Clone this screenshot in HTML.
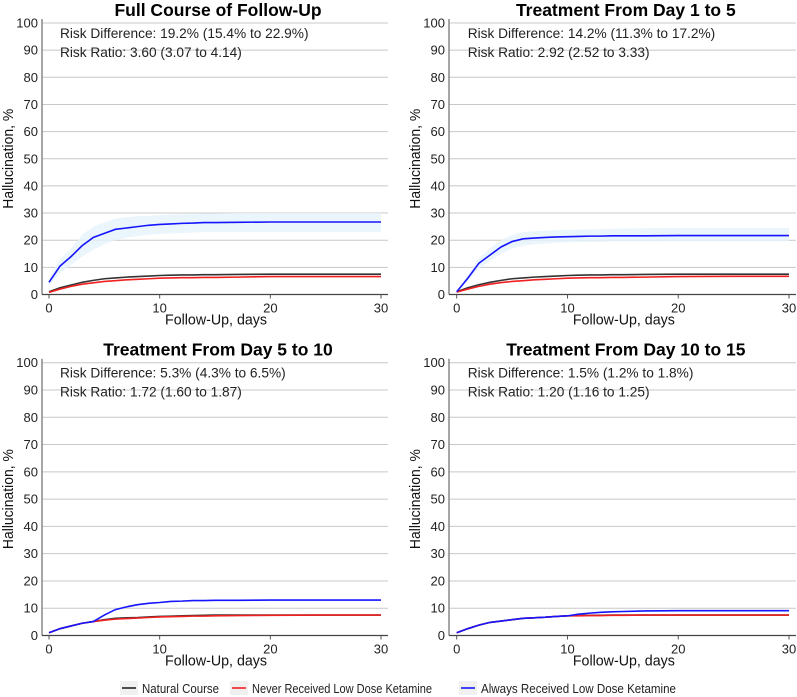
<!DOCTYPE html>
<html><head><meta charset="utf-8"><style>
body{margin:0;background:#fff;}
svg{display:block;font-family:"Liberation Sans",Arial,sans-serif;}
</style></head><body>
<svg id="chart" width="797" height="697" viewBox="0 0 797 697"></svg>
<script>
const days = [0,1,2,3,4,5,6,7,8,9,10,11,12,13,14,15,17,20,25,30];
const panelTitles = ["Full Course of Follow-Up","Treatment From Day 1 to 5","Treatment From Day 5 to 10","Treatment From Day 10 to 15"];
const riskDiff = ["Risk Difference: 19.2% (15.4% to 22.9%)","Risk Difference: 14.2% (11.3% to 17.2%)","Risk Difference: 5.3% (4.3% to 6.5%)","Risk Difference: 1.5% (1.2% to 1.8%)"];
const riskRatio = ["Risk Ratio: 3.60 (3.07 to 4.14)","Risk Ratio: 2.92 (2.52 to 3.33)","Risk Ratio: 1.72 (1.60 to 1.87)","Risk Ratio: 1.20 (1.16 to 1.25)"];
const yTicks = [0,10,20,30,40,50,60,70,80,90,100];
const xTicks = [0,10,20,30];
// panel 1
const natural1 = [1,2.5,3.5,4.5,5.2,5.8,6.1,6.4,6.6,6.8,7,7.1,7.2,7.2,7.3,7.3,7.4,7.5,7.5,7.5];
const never1   = [0.8,2,3,3.8,4.3,4.8,5.1,5.4,5.6,5.8,6,6.1,6.2,6.2,6.3,6.3,6.4,6.6,6.6,6.6];
const always1  = [4.5,10.5,14,18,21,22.5,24,24.5,25,25.5,25.8,26,26.2,26.3,26.5,26.5,26.6,26.7,26.7,26.7];
const alwaysLo1 = [3,8,11,14,16.5,18.5,20,21,21.5,22,22.3,22.5,22.7,22.8,23,23,23,23,23,23];
const alwaysHi1 = [6,13,17,22,25,26.5,28,28.5,28.8,29,29.2,29.4,29.6,29.7,29.8,29.9,30,30,30,30];
// panel 2
const natural2 = [1,2.5,3.6,4.5,5.2,5.8,6.1,6.4,6.6,6.8,7,7.1,7.2,7.2,7.3,7.3,7.4,7.5,7.5,7.5];
const never2   = [0.9,2,3,3.8,4.4,4.8,5.1,5.4,5.6,5.8,6,6.1,6.2,6.2,6.3,6.3,6.4,6.6,6.7,6.7];
const always2  = [1,6,11.5,14.5,17.5,19.5,20.5,20.8,21,21.2,21.3,21.4,21.5,21.5,21.6,21.6,21.6,21.7,21.7,21.7];
const alwaysLo2 = [0.8,5,9.5,12.5,15,17,18,18.5,18.8,19,19.2,19.3,19.4,19.4,19.5,19.5,19.5,19.6,19.6,19.6];
const alwaysHi2 = [1.2,7,13.5,17,20,22,23,23.3,23.5,23.7,23.8,23.9,24,24.1,24.2,24.3,24.4,24.5,24.5,24.5];
// panel 3
const natural3 = [1,2.5,3.5,4.5,5.1,5.8,6.3,6.5,6.6,6.8,7,7.1,7.2,7.3,7.4,7.5,7.5,7.5,7.5,7.5];
const never3   = [1,2.5,3.5,4.5,5.1,5.6,6,6.2,6.4,6.6,6.8,6.9,7,7.1,7.1,7.2,7.3,7.4,7.5,7.5];
const always3  = [1,2.5,3.5,4.5,5.1,7.5,9.5,10.5,11.3,11.8,12.1,12.5,12.6,12.8,12.8,12.9,12.9,13,13,13];
// panel 4
const natural4 = [1,2.5,3.8,4.8,5.3,5.8,6.3,6.5,6.7,7,7.2,7.3,7.4,7.4,7.5,7.5,7.5,7.5,7.5,7.5];
const never4   = [1,2.5,3.8,4.8,5.3,5.8,6.3,6.5,6.7,7,7.2,7.2,7.3,7.3,7.4,7.4,7.5,7.5,7.5,7.5];
const always4  = [1,2.5,3.8,4.8,5.3,5.8,6.3,6.5,6.7,7,7.2,7.8,8.2,8.5,8.7,8.8,9,9.1,9.1,9.1];

const panels = [
 {nat:natural1,nev:never1,alw:always1,lo:alwaysLo1,hi:alwaysHi1,x0:49,x1:381,y0:294.5,y1:23,ax:42,title:"panel-full-course"},
 {nat:natural2,nev:never2,alw:always2,lo:alwaysLo2,hi:alwaysHi2,x0:456.7,x1:789,y0:294.5,y1:23,ax:449,title:"panel-day-1-5"},
 {nat:natural3,nev:never3,alw:always3,lo:null,hi:null,x0:49,x1:381,y0:635.5,y1:362.7,ax:42,title:"panel-day-5-10"},
 {nat:natural4,nev:never4,alw:always4,lo:null,hi:null,x0:456.7,x1:789,y0:635.5,y1:362.7,ax:449,title:"panel-day-10-15"}
];
const NS="http://www.w3.org/2000/svg";
const svg=document.getElementById('chart');
function mk(tag,attrs,parent,text){const e=document.createElementNS(NS,tag);for(const k in attrs)e.setAttribute(k,attrs[k]);if(text!==undefined)e.textContent=text;(parent||svg).appendChild(e);return e;}
panels.forEach((p,i)=>{
 const g=mk('g',{});
 
 
 const xs=d=>p.x0+(d/30)*(p.x1-p.x0);
 const ys=v=>p.y0+(v/100)*(p.y1-p.y0);
 const right=p.x1+7;
 yTicks.forEach(t=>{
  if(t>0){const gl=mk('line',{x1:p.ax,x2:right,y1:ys(t),y2:ys(t),stroke:'#c8c8c8','stroke-width':1},g);
  
  }
  const tl=mk('text',{x:p.ax-4,y:ys(t)+4.5,'text-anchor':'end','font-size':13,fill:'#222'},g,String(t));
  
  
 });
 xTicks.forEach(t=>{
  mk('line',{x1:xs(t),x2:xs(t),y1:p.y0,y2:p.y0+4,stroke:'#555'},g);
  const tl=mk('text',{x:xs(t),y:p.y0+18,'text-anchor':'middle','font-size':13,fill:'#222'},g,String(t));
  
  
 });
 const ya=mk('line',{x1:p.ax,x2:p.ax,y1:p.y1-4,y2:p.y0,stroke:'#888','stroke-width':1.5},g);
 
 
 const xa=mk('line',{x1:p.ax,x2:right,y1:p.y0,y2:p.y0,stroke:'#444','stroke-width':1.2},g);
 
 
 const cx=(p.x0+p.x1)/2;
 const tt=mk('text',{x:cx+3,y:p.y1-7,'text-anchor':'middle','font-size':17.5,'font-weight':'bold',fill:'#000'},g,panelTitles[i]);
 
 
 const r1=mk('text',{x:p.x0+11,y:p.y1+15,'font-size':13.7,fill:'#222'},g,riskDiff[i]);
 
 
 const r2=mk('text',{x:p.x0+11,y:p.y1+34,'font-size':13.7,fill:'#222'},g,riskRatio[i]);
 
 
 const xt=mk('text',{x:cx+1,y:p.y0+30,'text-anchor':'middle','font-size':14.5,fill:'#111',textLength:102,lengthAdjust:'spacingAndGlyphs'},g,'Follow-Up, days');
 
 
 const ymid=(p.y0+p.y1)/2;
 const yt=mk('text',{x:0,y:0,'text-anchor':'middle','font-size':14.5,fill:'#111',textLength:100,lengthAdjust:'spacingAndGlyphs',transform:`translate(${p.ax-29},${ymid}) rotate(-90)`},g,'Hallucination, %');
 
 
 if(p.lo){
  let pts=days.map((d,j)=>xs(d)+','+ys(p.hi[j])).concat(days.slice().reverse().map((d,j)=>xs(d)+','+ys(p.lo[days.length-1-j])));
  const band=mk('polygon',{points:pts.join(' '),fill:'#e6f2fb',opacity:0.8},g);
  
  
 }
 [[p.nat,'#333','natural-course-line'],[p.nev,'#f02020','never-ketamine-line'],[p.alw,'#1515ff','always-ketamine-line']].forEach(([arr,c,n])=>{
  const l=mk('polyline',{points:days.map((d,j)=>xs(d)+','+ys(arr[j])).join(' '),fill:'none',stroke:c,'stroke-width':1.6},g);
  
  
 });
});
const legend=[[122,'#222','Natural Course','legend-natural-course',77],[232,'#f02020','Never Received Low Dose Ketamine','legend-never-ketamine',180],[461,'#1515ff','Always Received Low Dose Ketamine','legend-always-ketamine',195]];
legend.forEach(([x,c,t,n,w])=>{
 const g=mk('g',{});
 
 
 mk('rect',{x:x-2,y:681,width:18,height:14,fill:'#f0f0f0'},g);
 mk('line',{x1:x,x2:x+14,y1:688,y2:688,stroke:c,'stroke-width':1.6},g);
 mk('text',{x:x+20,y:693,'font-size':12.5,fill:'#222',textLength:w,lengthAdjust:'spacingAndGlyphs'},g,t);
});
</script>
</body></html>
